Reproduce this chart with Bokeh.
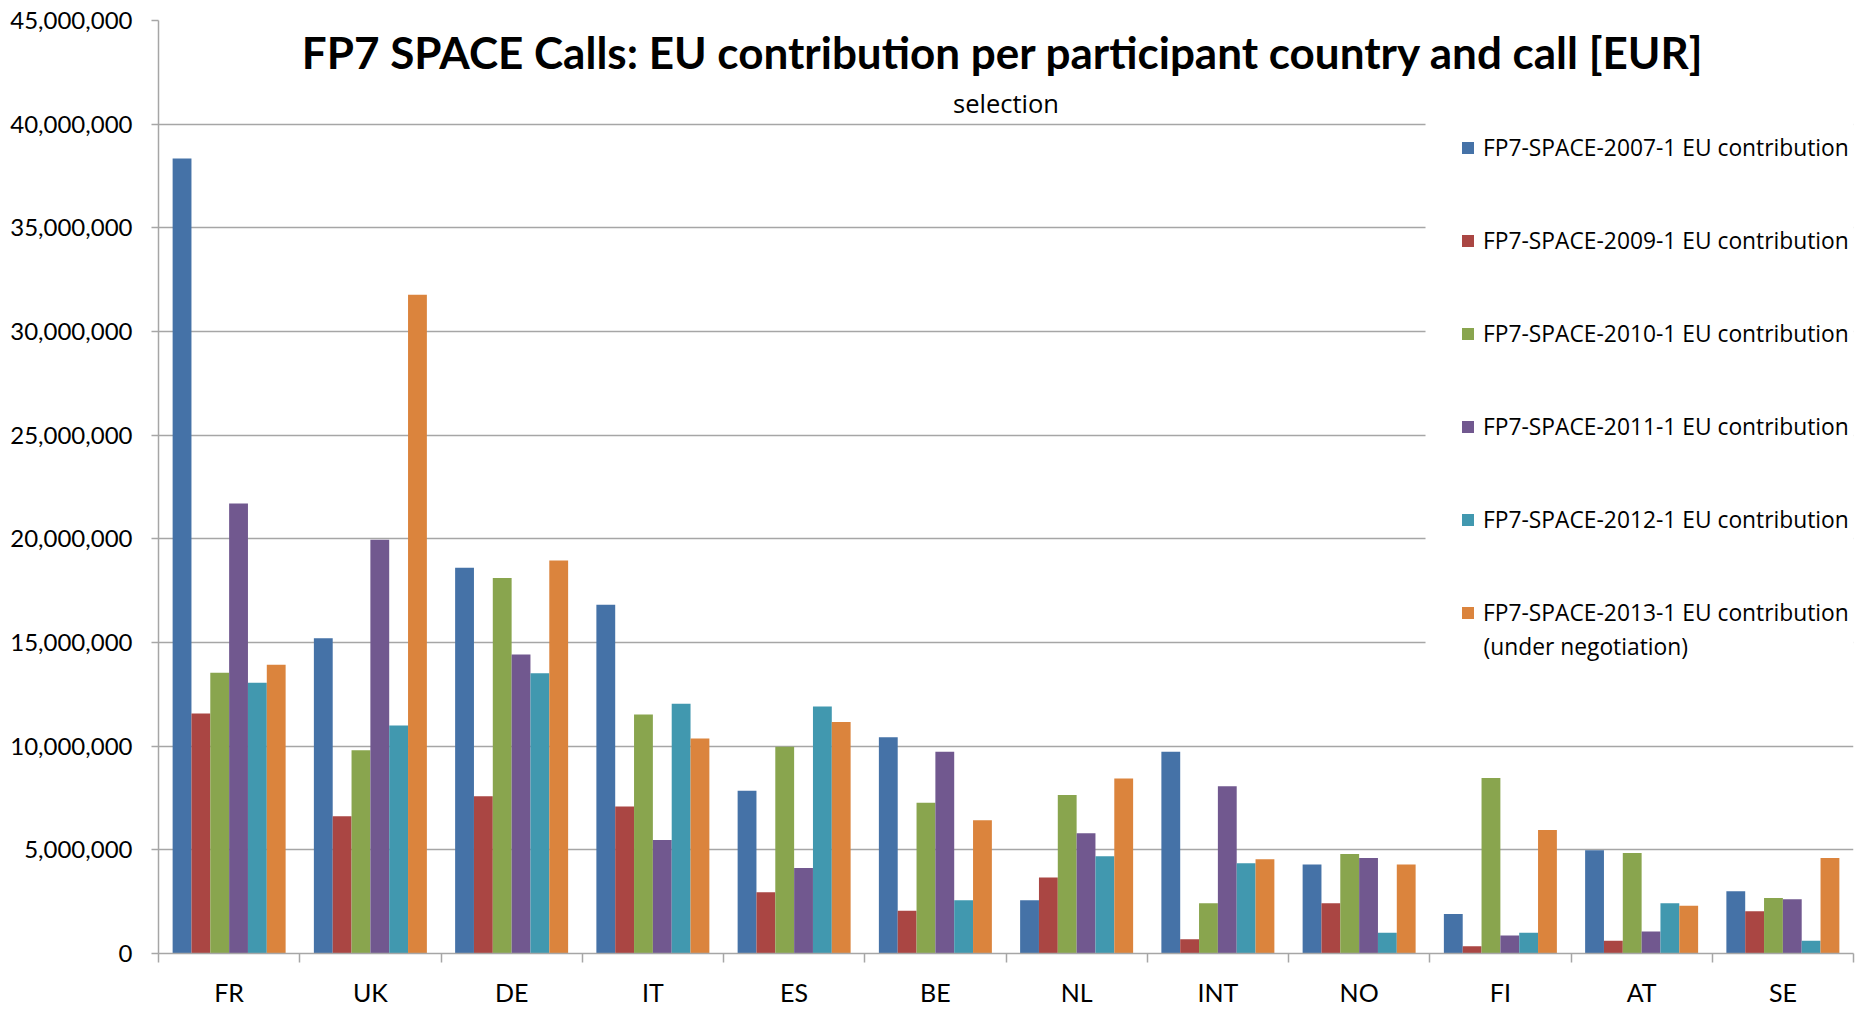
from bokeh.plotting import figure
from bokeh.models import (Range1d, FixedTicker, NumeralTickFormatter, Legend, LegendItem,
                          BoxAnnotation, Label)
from bokeh.embed import file_html
from bokeh.resources import INLINE

# ---- data ----
countries = ["FR", "UK", "DE", "IT", "ES", "BE", "NL", "INT", "NO", "FI", "AT", "SE"]
call_2007 = [38350000, 15200000, 18600000, 16820000, 7850000, 10430000, 2570000, 9730000, 4290000, 1910000, 4980000, 3000000]
call_2009 = [11580000, 6620000, 7590000, 7090000, 2960000, 2060000, 3670000, 690000, 2420000, 350000, 610000, 2040000]
call_2010 = [13540000, 9800000, 18110000, 11530000, 9970000, 7270000, 7650000, 2420000, 4800000, 8460000, 4850000, 2680000]
call_2011 = [21700000, 19950000, 14420000, 5470000, 4120000, 9730000, 5800000, 8070000, 4610000, 870000, 1060000, 2620000]
call_2012 = [13060000, 11000000, 13520000, 12040000, 11910000, 2570000, 4690000, 4350000, 1000000, 1000000, 2420000, 610000]
call_2013 = [13930000, 31770000, 18950000, 10370000, 11160000, 6430000, 8440000, 4540000, 4290000, 5960000, 2300000, 4610000]
series_labels = [
    "FP7-SPACE-2007-1 EU contribution",
    "FP7-SPACE-2009-1 EU contribution",
    "FP7-SPACE-2010-1 EU contribution",
    "FP7-SPACE-2011-1 EU contribution",
    "FP7-SPACE-2012-1 EU contribution",
    "FP7-SPACE-2013-1 EU contribution",
]
last_label_second_line = "(under negotiation)"
colors = ["#4572A7", "#AA4643", "#89A54E", "#71588F", "#4198AF", "#DB843D"]
y_ticks = [0, 5000000, 10000000, 15000000, 20000000, 25000000, 30000000, 35000000, 40000000, 45000000]
title_text = "FP7 SPACE Calls: EU contribution per participant country and call [EUR]"
subtitle_text = "selection"

series = [call_2007, call_2009, call_2010, call_2011, call_2012, call_2013]

GRID = "#a6a6a6"
AXISFONT = "Lato"
LEGFONT = "Open Sans"

p = figure(width=1862, height=1009, output_backend="svg", toolbar_location=None,
           x_range=Range1d(-0.5, len(countries) - 0.5), y_range=Range1d(0, 45000000),
           min_border_left=158, min_border_right=9, min_border_top=20, min_border_bottom=54)
p.outline_line_color = None
p.background_fill_color = "white"

bar_w = 1 / 7.5
renderers = []
for k, (vals, col) in enumerate(zip(series, colors)):
    xs = [i + (k - 2.5) * bar_w for i in range(len(countries))]
    r = p.vbar(x=xs, top=vals, width=bar_w, bottom=0, fill_color=col, line_color=None)
    renderers.append(r)

# x axis
p.xgrid.visible = False
xa = p.xaxis[0]
xa.ticker = FixedTicker(ticks=list(range(len(countries))),
                        minor_ticks=[i - 0.5 for i in range(len(countries) + 1)])
xa.major_label_overrides = {i: c for i, c in enumerate(countries)}
xa.major_tick_out = 0
xa.major_tick_in = 0
xa.minor_tick_out = 9
xa.minor_tick_in = 0
xa.minor_tick_line_color = GRID
xa.minor_tick_line_width = 1.5
xa.axis_line_color = GRID
xa.axis_line_width = 1.5
xa.major_label_standoff = 14
xa.major_label_text_font = AXISFONT
xa.major_label_text_font_size = "25px"
xa.major_label_text_color = "black"

# y axis
ya = p.yaxis[0]
ya.ticker = FixedTicker(ticks=y_ticks)
ya.formatter = NumeralTickFormatter(format="0,0")
ya.major_tick_out = 7
ya.major_tick_in = 0
ya.minor_tick_out = 0
ya.minor_tick_in = 0
ya.major_tick_line_color = GRID
ya.major_tick_line_width = 1.5
ya.axis_line_color = GRID
ya.axis_line_width = 1.5
ya.major_label_standoff = 19
ya.major_label_text_font = AXISFONT
ya.major_label_text_font_size = "24px"
ya.major_label_text_color = "black"

p.ygrid.ticker = FixedTicker(ticks=y_ticks)
p.ygrid.grid_line_color = GRID
p.ygrid.grid_line_width = 1.5

# title area (white box over gridlines like the original chart title)
p.add_layout(BoxAnnotation(left=0.44, right=10.53, bottom=40330000, top=46500000,
                           fill_color="white", fill_alpha=1.0, line_color=None))
p.add_layout(Label(x=5.48, y=43460000, text=title_text, text_align="center",
                   text_baseline="middle", text_font="Lato", text_font_style="bold",
                   text_font_size="44px", text_color="black"))
p.add_layout(Label(x=5.5, y=41000000, text=subtitle_text, text_align="center",
                   text_baseline="middle", text_font=LEGFONT,
                   text_font_size="25.5px", text_color="black"))

# legend background area (white, interrupts gridlines as in the original)
p.add_layout(BoxAnnotation(left=8.47, right=12.5, bottom=12750000, top=41150000,
                           fill_color="white", fill_alpha=1.0, line_color=None))

# legend
items = [LegendItem(label=lab, renderers=[r]) for lab, r in zip(series_labels, renderers)]
legend = Legend(items=items, location=(1302, 325), padding=0, margin=0, spacing=61,
                glyph_width=15, glyph_height=15, label_height=32, label_standoff=8,
                label_text_font=LEGFONT, label_text_font_size="22.8px",
                label_text_color="black", background_fill_alpha=0.0,
                border_line_color=None)
p.add_layout(legend)
p.add_layout(Label(x=8.881, y=14820000, text=last_label_second_line, text_align="left",
                   text_baseline="middle", text_font=LEGFONT, text_font_size="22.8px",
                   text_color="black"))

open("out.html", "w").write(file_html(p, INLINE))
